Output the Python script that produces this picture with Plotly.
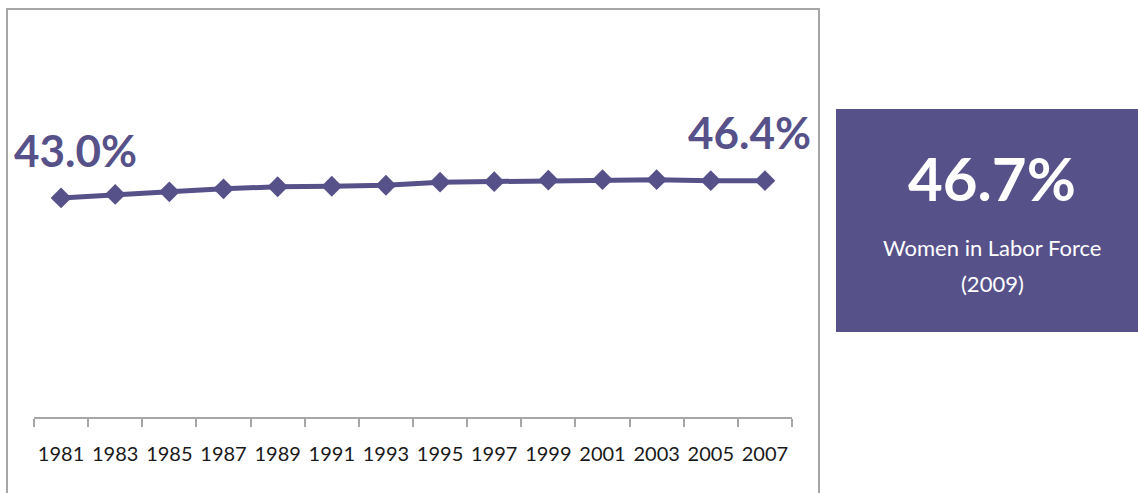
import plotly.graph_objects as go

# ---- data ----
years = ["1981", "1983", "1985", "1987", "1989", "1991", "1993",
         "1995", "1997", "1999", "2001", "2003", "2005", "2007"]
share_women = [43.0, 43.7, 44.2, 44.8, 45.2, 45.3, 45.5,
               46.1, 46.2, 46.5, 46.6, 46.6, 46.4, 46.4]
highlight_value = 46.7
highlight_label = "Women in Labor Force"
highlight_year = "2009"

PURPLE = "#57518A"
GRAY = "#A6A6A6"
FONT = "Lato"
W, H = 1138, 493

def px_x(p):
    return p / W

def px_y(p):
    return (H - p) / H

fig = go.Figure()
fig.add_trace(go.Scatter(
    x=years, y=share_women, mode="lines+markers",
    line=dict(color=PURPLE, width=5),
    marker=dict(symbol="diamond", size=16, color=PURPLE),
    hovertemplate="%{x}: %{y:.1f}%<extra></extra>",
))

fig.update_layout(
    width=W, height=H,
    margin=dict(l=0, r=0, t=0, b=0),
    paper_bgcolor="white", plot_bgcolor="white",
    showlegend=False,
    font=dict(family=FONT),
    xaxis=dict(
        type="category",
        domain=[px_x(34), px_x(792)],
        range=[-0.5, len(years) - 0.5],
        showgrid=False, zeroline=False,
        showline=True, linecolor=GRAY, linewidth=2,
        ticks="outside", ticklen=8, tickwidth=1.5, tickcolor=GRAY,
        tickson="boundaries",
        tickangle=0,
        ticklabelstandoff=18,
        tickfont=dict(family=FONT, size=20, color="#1A1A1A"),
        anchor="y",
    ),
    yaxis=dict(
        domain=[px_y(417), px_y(9.5)],
        range=[0, 80],
        visible=False,
    ),
)

# chart border
fig.add_shape(type="rect", xref="paper", yref="paper",
              x0=px_x(7), x1=px_x(819), y0=-0.1, y1=px_y(9),
              line=dict(color=GRAY, width=2), fillcolor="rgba(0,0,0,0)",
              layer="below")

# first / last value labels (category index positions)
first_i, last_i = 0, len(years) - 1
fig.add_annotation(x=first_i, y=share_women[first_i], xref="x", yref="y",
                   text=f"{share_women[first_i]:.1f}%", showarrow=False,
                   xanchor="center", yanchor="middle",
                   xshift=14, yshift=48,
                   font=dict(family=FONT, size=44, color=PURPLE, weight="bold"))
fig.add_annotation(x=last_i, y=share_women[last_i], xref="x", yref="y",
                   text=f"{share_women[last_i]:.1f}%", showarrow=False,
                   xanchor="center", yanchor="middle",
                   xshift=-15, yshift=49,
                   font=dict(family=FONT, size=44, color=PURPLE, weight="bold"))

# highlight box
fig.add_shape(type="rect", xref="paper", yref="paper",
              x0=px_x(836), x1=1.01, y0=px_y(332), y1=px_y(109),
              line=dict(width=0), fillcolor=PURPLE)
fig.add_annotation(x=px_x(992), y=px_y(178), xref="paper", yref="paper",
                   text=f"{highlight_value:.1f}%", showarrow=False,
                   xanchor="center", yanchor="middle",
                   font=dict(family=FONT, size=60, color="white", weight="bold"))
fig.add_annotation(x=px_x(992), y=px_y(247), xref="paper", yref="paper",
                   text=highlight_label, showarrow=False,
                   xanchor="center", yanchor="middle",
                   font=dict(family=FONT, size=22, color="white"))
fig.add_annotation(x=px_x(992), y=px_y(283), xref="paper", yref="paper",
                   text=f"({highlight_year})", showarrow=False,
                   xanchor="center", yanchor="middle",
                   font=dict(family=FONT, size=22, color="white"))

fig.write_html("out.html",
               config={"displayModeBar": False},
               post_script="document.body.style.margin='0';document.body.style.overflow='hidden';")
